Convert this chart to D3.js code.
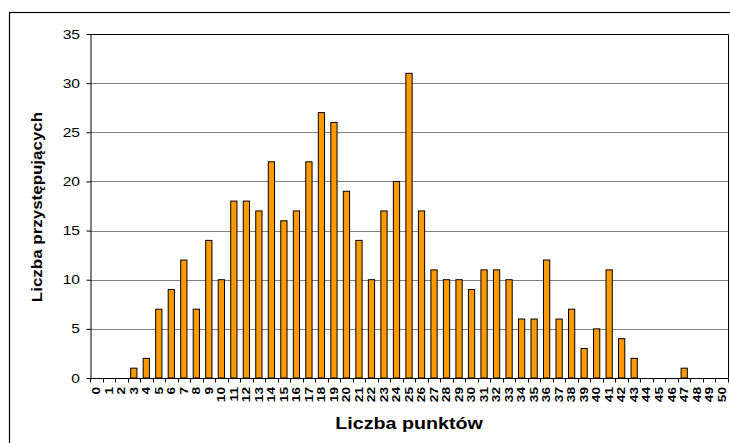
<!DOCTYPE html>
<html>
<head>
<meta charset="utf-8">
<script src="https://cdn.jsdelivr.net/npm/d3@7"></script>
<style>
  html, body { margin: 0; padding: 0; background: #fff; }
  svg { display: block; font-family: "Liberation Sans", Arial, sans-serif; }
</style>
</head>
<body>
<svg id="chart" width="730" height="443"></svg>
<script>
// Points scored (0–50) and number of participants with each score
const categories = d3.range(0, 51).map(String);
const counts = [
  0, 0, 0, 1, 2, 7, 9, 12, 7, 14,
  10, 18, 18, 17, 22, 16, 17, 22, 27, 26,
  19, 14, 10, 17, 20, 31, 17, 11, 10, 10,
  9, 11, 11, 10, 6, 6, 12, 6, 7, 3,
  5, 11, 4, 2, 0, 0, 0, 1, 0, 0,
  0
];
const yTicks = [0, 5, 10, 15, 20, 25, 30, 35];
const xTitle = "Liczba punktów";
const yTitle = "Liczba przystępujących";

const svg = d3.select("#chart");
const plot = { left: 90, top: 34, right: 728, bottom: 378 };
const wide = 1.25; // glyphs are drawn a little wider than the font's natural width

// outer chart frame (runs off the right and bottom edges)
svg.append("rect")
  .attr("x", 9.5).attr("y", 12.5)
  .attr("width", 740).attr("height", 460)
  .attr("fill", "#fff").attr("stroke", "#000").attr("stroke-width", 1.2);

const x = d3.scaleBand().domain(categories)
  .range([plot.left, plot.right]).paddingInner(0.5).paddingOuter(0.25);
const xEdge = d3.scaleLinear().domain([0, categories.length]).range([plot.left, plot.right]);
const y = d3.scaleLinear().domain([0, 35]).range([plot.bottom, plot.top]);

// horizontal gridlines
svg.append("g").selectAll("line").data(yTicks.filter(d => d > 0 && d < 35))
  .join("line")
  .attr("x1", plot.left).attr("x2", plot.right)
  .attr("y1", d => Math.round(y(d)) + 0.5).attr("y2", d => Math.round(y(d)) + 0.5)
  .attr("stroke", "#808080").attr("stroke-width", 1);

// plot area border on top and right
svg.append("path")
  .attr("d", `M${plot.left},${plot.top + 0.5}H${plot.right + 0.5}V${plot.bottom}`)
  .attr("fill", "none").attr("stroke", "#000").attr("stroke-width", 1);

// bars (zero counts are not drawn)
const barData = categories.map((c, i) => ({ cat: c, value: counts[i] }))
  .filter(d => d.value > 0);
svg.append("g").selectAll("rect").data(barData)
  .join("rect")
  .attr("x", d => x(d.cat))
  .attr("y", d => y(d.value))
  .attr("width", x.bandwidth())
  .attr("height", d => y(0) - y(d.value))
  .attr("fill", "#FF9900").attr("stroke", "#000").attr("stroke-width", 1);

// y axis
const yAxis = d3.axisLeft(y).tickValues(yTicks).tickSize(4).tickSizeOuter(0);
const gy = svg.append("g").attr("transform", `translate(${plot.left + 0.5},0)`).call(yAxis);
gy.select(".domain").attr("stroke", "#000");
gy.selectAll(".tick line").attr("stroke", "#000");
gy.selectAll(".tick text")
  .attr("x", -10.5 / wide)
  .attr("transform", `scale(${wide},1)`)
  .attr("font-size", 12.5).attr("fill", "#000")
  .attr("font-family", "Liberation Sans, Arial, sans-serif");

// x axis: ticks between categories, labels rotated
const gx = svg.append("g").attr("transform", `translate(0,${plot.bottom + 0.5})`);
gx.append("line")
  .attr("x1", plot.left).attr("x2", plot.right + 0.5)
  .attr("stroke", "#000");
gx.selectAll("line.tk").data(d3.range(0, categories.length + 1))
  .join("line").attr("class", "tk")
  .attr("x1", d => Math.round(xEdge(d)) + 0.5).attr("x2", d => Math.round(xEdge(d)) + 0.5)
  .attr("y1", 0).attr("y2", 4)
  .attr("stroke", "#000");
gx.selectAll("text").data(categories)
  .join("text")
  .attr("transform", d => `translate(${x(d) + x.bandwidth() / 2 + 3.8},8.5) rotate(-90) scale(1.3,1)`)
  .attr("text-anchor", "end")
  .attr("font-size", 10.5).attr("font-weight", "bold").attr("fill", "#000")
  .text(d => d);

// axis titles
svg.append("text")
  .attr("transform", `translate(${(plot.left + plot.right) / 2},429) scale(1.23,1)`)
  .attr("text-anchor", "middle")
  .attr("font-size", 16).attr("font-weight", "bold")
  .text(xTitle);
svg.append("text")
  .attr("transform", `translate(42,207) rotate(-90) scale(1.17,1)`)
  .attr("text-anchor", "middle")
  .attr("font-size", 14.5).attr("font-weight", "bold")
  .text(yTitle);
</script>
</body>
</html>
